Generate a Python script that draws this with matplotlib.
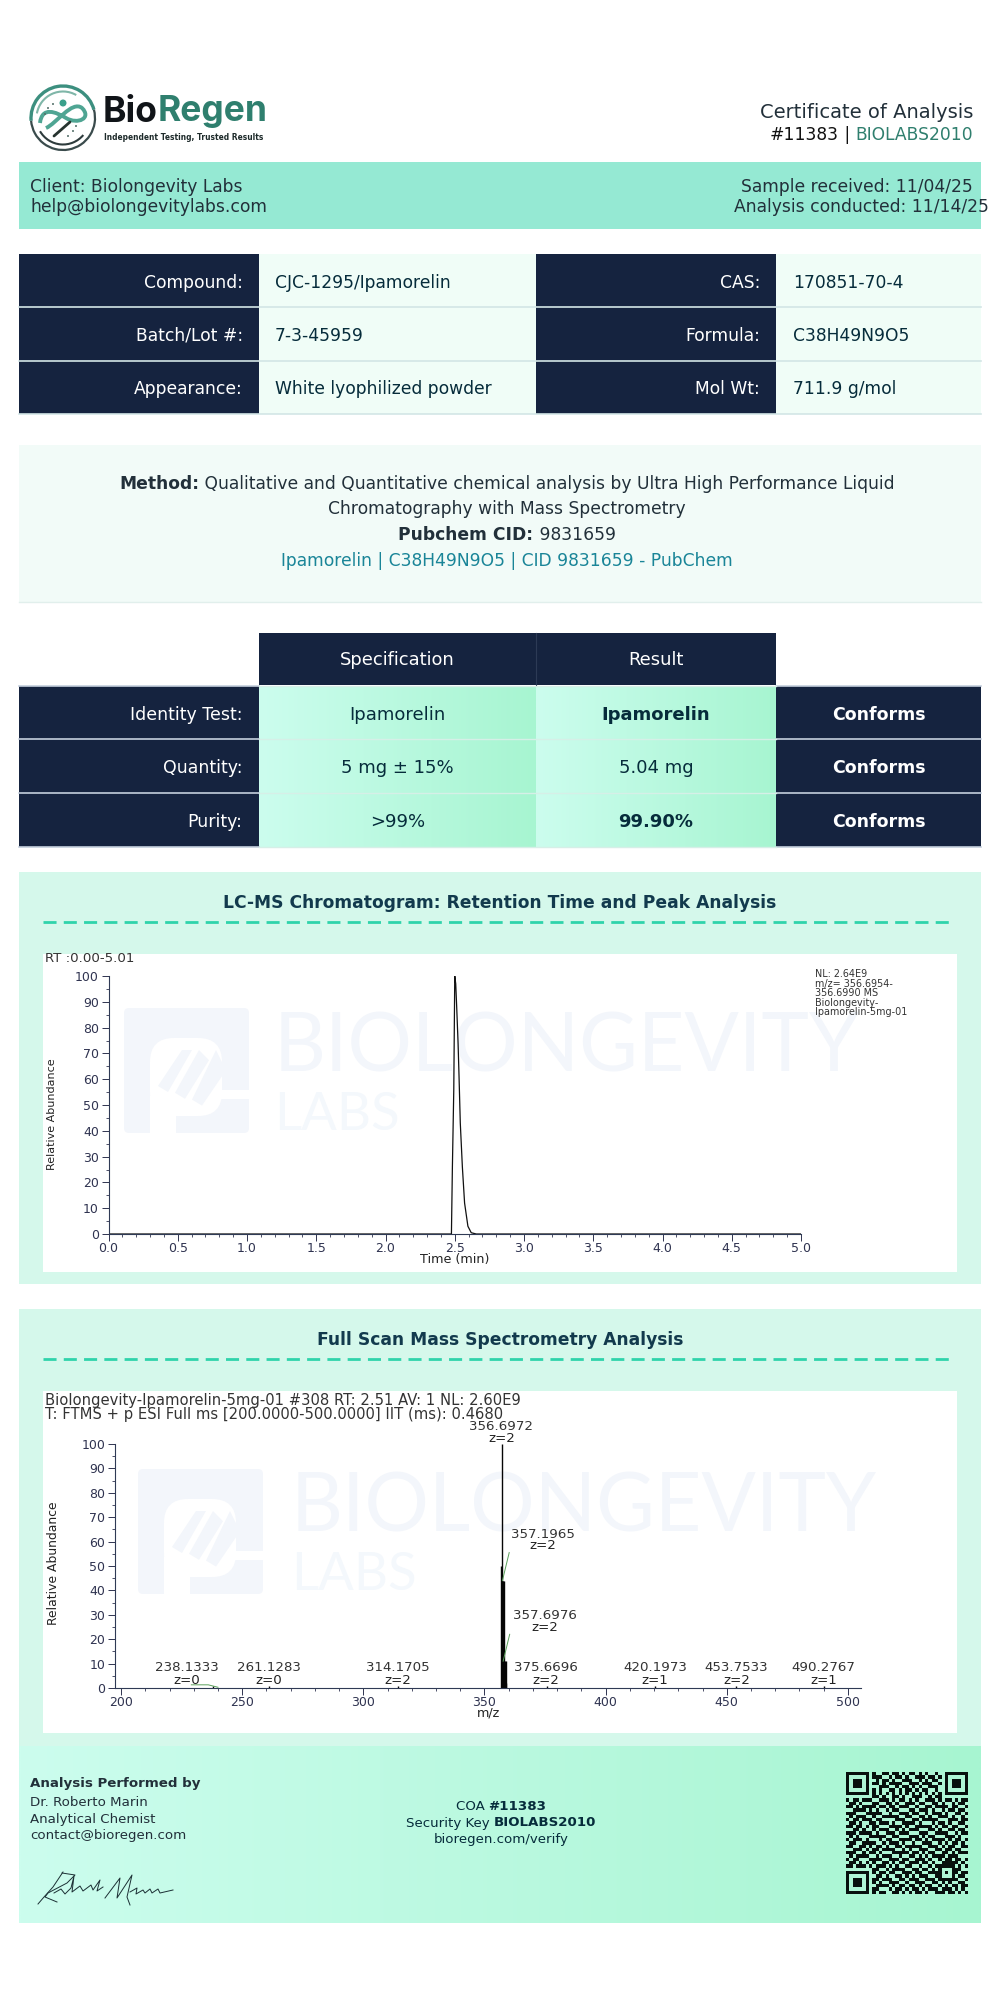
import numpy as np
import matplotlib
matplotlib.use('Agg')
import matplotlib.pyplot as plt
from matplotlib.patches import Rectangle, Circle, Arc, FancyBboxPatch, Polygon, PathPatch
from matplotlib.path import Path
from matplotlib.ticker import MultipleLocator

plt.rcParams['font.family'] = 'DejaVu Sans'

# colours
NAVY = '#15233f'
BAND = '#95e9d3'
PALE = '#f0fdf7'
PANEL = '#d5f8eb'
METHOD_BG = '#f2fbf8'
INK = '#062c3b'
DARK = '#22303a'
GREEN = '#2f7f6e'
LINK = '#1a8598'
DASH = '#2fd3ab'
WM = '#f3f6fb'

# report text
info_left = ['Compound:', 'Batch/Lot #:', 'Appearance:']
info_left_val = ['CJC-1295/Ipamorelin', '7-3-45959', 'White lyophilized powder']
info_right = ['CAS:', 'Formula:', 'Mol Wt:']
info_right_val = ['170851-70-4', 'C38H49N9O5', '711.9 g/mol']
tests = ['Identity Test:', 'Quantity:', 'Purity:']
specs = ['Ipamorelin', '5 mg ± 15%', '>99%']
results = ['Ipamorelin', '5.04 mg', '99.90%']
results_bold = [True, False, True]
verdicts = ['Conforms', 'Conforms', 'Conforms']

# chromatogram
rt = [0.0, 2.476, 2.483, 2.493, 2.5, 2.507, 2.514, 2.524, 2.531, 2.54, 2.555, 2.571, 2.595, 2.619, 2.655, 5.0]
rt_abundance = [0, 0, 26, 56, 100, 97, 88, 74, 61, 43, 26, 12, 3, 0.5, 0, 0]

# mass spectrum
mz = [238.13, 261.13, 314.17, 356.8, 357.2, 357.45, 357.7, 357.95, 358.2, 358.45, 358.7, 359.0, 375.67, 420.2, 453.75, 490.28]
mz_abundance = [1, 1, 1, 50, 100, 44, 44, 44, 11, 11, 11, 2, 1, 1, 1, 1]
peak_names = ['238.1333', '261.1283', '314.1705', '356.6972', '357.1965', '357.6976', '375.6696', '420.1973', '453.7533', '490.2767']
peak_z = ['z=0', 'z=0', 'z=2', 'z=2', 'z=2', 'z=2', 'z=2', 'z=1', 'z=2', 'z=1']
name_x = [227.3, 261, 314.4, 357, 374, 375, 375.5, 420.3, 454, 490]
name_y = [8.2, 8.2, 8.2, 107, 63, 29.7, 8.2, 8.2, 8.2, 8.2]
z_y = [3.1, 3.1, 3.1, 102.3, 58.2, 24.8, 3.1, 3.1, 3.1, 3.1]

qr_rows = [
    '1111111010011011010110101001001111111',
    '1000001011100101101001110110101000001',
    '1011101001011010011100101011001011101',
    '1011101011010111100111011100101011101',
    '1011101000111001011010100111001011101',
    '1000001010100110101101011001001000001',
    '1111111010101010101010101010101111111',
    '0000000011010011010011100101100000000',
    '1011011100111010110101001110101101011',
    '0110100011001101001110110011010010110',
    '1101011110110110111001001101111011001',
    '0011110101001011000110111010010110110',
    '1110001111100100111011001011101001101',
    '0101110010011111001100110100111010010',
    '1011011101100001110011011111000111011',
    '0110100110111010011110100010110100110',
    '1101101011000111101001111101011011001',
    '0011010010111001010111000110100110110',
    '1110111101001110111000111001111001011',
    '0101000111110011000111010110001110100',
    '1011101000101100111101101011110101101',
    '0110011110010111010010011100101011010',
    '1100110101101001101111100111010110011',
    '0011101011011110010100111001101101100',
    '1110010110100011111011010110011010111',
    '0101111001011100100110101011110111000',
    '1011000111100111011001110100101101101',
    '0110101010011010110111011010011111010',
    '1101110101110101001100100101111110101',
    '0000000011001011110011011010100011100',
    '1111111010110110011101100111101011011',
    '1000001001101001101010111001100010110',
    '1011101011011100110111001110111111001',
    '1011101010100111001001110011010100110',
    '1011101001111010110110101100101011011',
    '1000001011000101101011010111011101010',
    '1111111010110011010101101001110110101',
]


def rgb(c):
    return np.array(matplotlib.colors.to_rgb(c))


fig = plt.figure(figsize=(10, 20), dpi=100, facecolor='white')
ax = fig.add_axes([0, 0, 1, 1])
ax.set_xlim(0, 1000)
ax.set_ylim(2000, 0)
ax.axis('off')
renderer = fig.canvas.get_renderer()


def box(x0, y0, x1, y1, color, z=1):
    ax.add_patch(Rectangle((x0, y0), x1 - x0, y1 - y0, facecolor=color, edgecolor='none', zorder=z))


def grad(x0, y0, x1, y1, c0='#ccfdee', c1='#a7f5d1', z=1):
    t = np.linspace(0, 1, 256)[None, :, None]
    img = rgb(c0)[None, None, :] * (1 - t) + rgb(c1)[None, None, :] * t
    ax.imshow(img, extent=(x0, x1, y1, y0), aspect='auto', zorder=z, interpolation='bilinear')
    ax.set_xlim(0, 1000)
    ax.set_ylim(2000, 0)


def put(x, y, s, size=12.3, color=DARK, ha='left', weight='normal', **kw):
    return ax.text(x, y, s, fontsize=size, color=color, ha=ha, va='center', fontweight=weight, zorder=5, **kw)


def runs(x, y, parts, size=12.3, align='left', **kw):
    # several styles on one line, parts are (text, colour, weight)
    widths = []
    for s, c, w in parts:
        t = ax.text(0, 0, s.replace(' ', '\u00a0'), fontsize=size, fontweight=w, **kw)
        widths.append(t.get_window_extent(renderer).width)
        t.remove()
    total = sum(widths)
    cx = x if align == 'left' else x - total if align == 'right' else x - total / 2
    for (s, c, w), wd in zip(parts, widths):
        put(cx, y, s.replace(' ', '\u00a0'), size=size, color=c, weight=w, **kw)
        cx += wd


def watermark(ix, iy, tx, ty, ly, size, lsize):
    ax.add_patch(FancyBboxPatch((ix, iy), 125, 125, boxstyle='round,pad=0,rounding_size=5', fc=WM, ec='none', zorder=2.5))
    ax.add_patch(FancyBboxPatch((ix + 26, iy + 30), 72, 78, boxstyle='round,pad=0,rounding_size=24', fc='white', ec='none', zorder=2.6))
    ax.add_patch(Rectangle((ix + 26, iy + 88), 26, 37, fc='white', ec='none', zorder=2.6))
    ax.add_patch(Rectangle((ix + 60, iy + 82), 65, 9, fc='white', ec='none', zorder=2.6))
    for k in range(3):
        d = 17 * k
        ax.add_patch(Polygon([(ix + 34 + d, iy + 78 + d * 0.4), (ix + 58 + d, iy + 42), (ix + 68 + d, iy + 42 + d * 0.6),
                              (ix + 44 + d, iy + 84 + d * 0.4)], fc=WM, ec='none', zorder=2.7))
    ax.text(tx, ty, 'BIOLONGEVITY', fontsize=size, color=WM, family='Lato', va='center', zorder=2.5)
    ax.text(tx, ly, 'LABS', fontsize=lsize, color='#f4f8fc', family='Lato', va='center', zorder=2.5)


# logo
cx, cy = 63, 118
ax.add_patch(Arc((cx, cy), 64, 64, theta1=175, theta2=345, ec='#3c8f7f', lw=2.4, zorder=3))
ax.add_patch(Arc((cx, cy), 64, 64, theta1=345, theta2=175, ec='#3a4b4c', lw=1.6, zorder=3))
ax.add_patch(Arc((cx, cy), 53, 53, theta1=190, theta2=300, ec='#7fb6a8', lw=1.5, zorder=3))
ax.add_patch(Arc((cx, cy), 53, 53, theta1=40, theta2=150, ec='#2e3b3c', lw=1.5, zorder=3))
s_curve = Path([(40, 123), (42, 106), (56, 112), (66, 118), (78, 125), (92, 118), (82, 108), (72, 100), (56, 124), (46, 128)],
               [Path.MOVETO, Path.CURVE4, Path.CURVE4, Path.CURVE4, Path.CURVE4, Path.CURVE4, Path.CURVE4, Path.CURVE4, Path.CURVE4, Path.CURVE4])
ax.add_patch(PathPatch(s_curve, fc='none', ec='#4fa593', lw=2.8, zorder=3))
ax.plot([54, 70], [136, 122], color='#27342f', lw=2.0, solid_capstyle='round', zorder=3)
ax.add_patch(Circle((63, 103), 3.5, fc='#3aa08b', ec='none', zorder=3))
for dx, dy in [(48, 108), (53, 104), (73, 131), (68, 136), (76, 126), (45, 114)]:
    ax.add_patch(Circle((dx, dy), 1.0, fc='#55706a', ec='none', zorder=3))
runs(103, 112, [('Bio', '#101418', 'bold'), ('Regen', GREEN, 'bold')], size=25.5, family='Inter')
put(104, 137, 'Independent Testing, Trusted Results', size=5.45, color='#1d2a2a', weight='bold')

# header
put(973, 112, 'Certificate of Analysis', size=14, ha='right')
runs(973, 135, [('#11383', '#111111', 'normal'), (' | ', '#111111', 'normal'), ('BIOLABS2010', GREEN, 'normal')], size=12.3, align='right')

# client band
box(19, 162, 981, 229, BAND)
put(30.5, 187, 'Client: Biolongevity Labs')
put(30.5, 207, 'help@biolongevitylabs.com')
put(973, 187, 'Sample received: 11/04/25', ha='right')
put(988.5, 207, 'Analysis conducted: 11/14/25', ha='right')

# compound table
row_edges = [254, 307, 361, 414]
box(259, 254, 536, 414, PALE)
box(776, 254, 981, 414, PALE)
box(19, 254, 259, 414, NAVY, z=2)
box(536, 254, 776, 414, NAVY, z=2)
for y in row_edges[1:]:
    ax.plot([19, 981], [y, y], color='#d3e6e6', lw=1.2, zorder=3)
for i in range(3):
    y = (row_edges[i] + row_edges[i + 1]) / 2 + 2
    put(243, y, info_left[i], color='white', ha='right')
    put(275, y, info_left_val[i], color=INK)
    put(760, y, info_right[i], color='white', ha='right')
    put(793, y, info_right_val[i], color=INK)

# method box
box(19, 445, 981, 602, METHOD_BG)
ax.plot([19, 981], [602, 602], color='#e1efec', lw=1, zorder=2)
runs(507, 484, [('Method:', DARK, 'bold'), (' Qualitative and Quantitative chemical analysis by Ultra High Performance Liquid', DARK, 'normal')], align='center')
put(507, 509, 'Chromatography with Mass Spectrometry', ha='center')
runs(507, 535, [('Pubchem CID:', DARK, 'bold'), (' 9831659', DARK, 'normal')], align='center')
put(507, 561, 'Ipamorelin | C38H49N9O5 | CID 9831659 - PubChem', color=LINK, ha='center')

# results table
box(259, 633, 776, 685, NAVY)
ax.plot([536, 536], [633, 685], color='#2c3a55', lw=0.8, zorder=3)
put(397.5, 660, 'Specification', size=12.9, color='white', ha='center')
put(656, 660, 'Result', size=12.9, color='white', ha='center')
edges = [686, 739, 793, 847]
for i in range(3):
    y0, y1 = edges[i], edges[i + 1]
    y = (y0 + y1) / 2 + 2
    box(19, y0, 259, y1, NAVY)
    box(776, y0, 981, y1, NAVY)
    grad(259, y0, 536, y1)
    grad(536, y0, 776, y1)
    put(242, y, tests[i], size=12.5, color='white', ha='right')
    put(397.5, y, specs[i], size=13, color=INK, ha='center')
    put(656, y, results[i], size=13, color=INK, ha='center', weight='bold' if results_bold[i] else 'normal')
    put(879, y, verdicts[i], size=12.5, color='white', ha='center', weight='bold')
for y in edges:
    ax.plot([19, 259], [y, y], color='#c5cfdd', lw=1.2, zorder=3)
    ax.plot([776, 981], [y, y], color='#c5cfdd', lw=1.2, zorder=3)
    ax.plot([259, 776], [y, y], color='#d6efe7', lw=1, zorder=3)

# chart panels
for top, bottom, wt, wb, ty, dy, title in [
        (872, 1284, 954, 1272, 903, 922, 'LC-MS Chromatogram: Retention Time and Peak Analysis'),
        (1309, 1746, 1391, 1733, 1340, 1359, 'Full Scan Mass Spectrometry Analysis')]:
    box(19, top, 981, bottom, PANEL)
    box(43, wt, 957, wb, 'white', z=2)
    put(500, ty, title, size=12.3, color='#123a4d', ha='center', weight='bold')
    ax.plot([43, 950], [dy, dy], color=DASH, lw=2, dashes=(4.7, 2.6), zorder=3)

watermark(124, 1008, 274, 1049, 1115, 58, 38)
watermark(138, 1469, 291, 1508, 1575, 58, 38)

# footer
grad(19, 1746, 981, 1923, z=3)
put(30.5, 1783, 'Analysis Performed by', size=9.6, weight='bold')
put(30.5, 1802, 'Dr. Roberto Marin', size=9.6)
put(30.5, 1819, 'Analytical Chemist', size=9.6)
put(30.5, 1836, 'contact@bioregen.com', size=9.6)
runs(501, 1806, [('COA ', INK, 'normal'), ('#11383', INK, 'bold')], size=9.6, align='center')
runs(501, 1823, [('Security Key ', INK, 'normal'), ('BIOLABS2010', INK, 'bold')], size=9.6, align='center')
put(501, 1840, 'bioregen.com/verify', size=9.6, color=INK, ha='center')

# signature strokes
for stroke in [
    [(63, 1872), (53, 1887), (44, 1897), (38, 1904)],
    [(62, 1873), (75, 1875), (67, 1883), (48, 1893), (45, 1897), (57, 1902)],
    [(54, 1893), (61, 1889), (65, 1894), (71, 1888), (74, 1876), (72, 1892), (80, 1886), (83, 1891), (91, 1885), (93, 1890), (100, 1880), (97, 1891), (103, 1887)],
    [(105, 1898), (120, 1878), (117, 1898), (132, 1875), (127, 1897), (130, 1905)],
    [(130, 1892), (137, 1888), (136, 1894), (143, 1890), (145, 1893), (150, 1889), (152, 1893), (158, 1889), (160, 1893), (173, 1890)],
]:
    xs, ys = zip(*stroke)
    ax.plot(xs, ys, color='#1b2f34', lw=0.7, solid_joinstyle='round', zorder=6)

# qr code
qr = np.array([[int(ch) for ch in r] for r in qr_rows])
ax.imshow(qr, extent=(846, 968, 1894, 1772), cmap=matplotlib.colors.ListedColormap(['#aef5d5', '#08100e']),
          aspect='auto', zorder=5, interpolation='nearest')
ax.set_xlim(0, 1000)
ax.set_ylim(2000, 0)


def chart_axes(x0, x1, y_top, y_zero):
    a = fig.add_axes([x0 / 1000, 1 - y_zero / 2000, (x1 - x0) / 1000, (y_zero - y_top) / 2000])
    a.patch.set_alpha(0)
    a.spines['top'].set_visible(False)
    a.spines['right'].set_visible(False)
    for sp in a.spines.values():
        sp.set_color('#2f3a55')
        sp.set_linewidth(0.8)
    a.set_ylim(0, 100)
    a.yaxis.set_major_locator(MultipleLocator(10))
    a.yaxis.set_minor_locator(MultipleLocator(5))
    a.tick_params(which='major', length=5, width=0.7, labelsize=9, colors='#2f3350', pad=2)
    a.tick_params(which='minor', length=2.5, width=0.6, color='#2f3350')
    a.tick_params(axis='x', pad=1)
    return a


# chromatogram
ax1 = chart_axes(108.5, 801, 976, 1234)
ax1.plot(rt, rt_abundance, color='#111111', lw=0.9)
ax1.set_xlim(0, 5)
ax1.xaxis.set_major_locator(MultipleLocator(0.5))
ax1.xaxis.set_minor_locator(MultipleLocator(0.1))
ax1.set_xlabel('Time (min)', fontsize=9.2, color='#222222', labelpad=-2)
put(52, 1114, 'Relative Abundance', size=8, color='#222222', ha='center', rotation=90, family='Liberation Sans Narrow')
put(45, 958, 'RT :0.00-5.01', size=9.6, color='#333333')
for k, line in enumerate(['NL: 2.64E9', 'm/z= 356.6954-', '356.6990 MS', 'Biolongevity-', 'Ipamorelin-5mg-01']):
    put(815, 974 + k * 9.6, line, size=6.9, color='#333333')

# mass spectrum
ax2 = chart_axes(115, 861, 1444, 1688)
ax2.vlines(mz, 0, mz_abundance, color='#050505', lw=1.0)
ax2.set_xlim(197.5, 505.4)
ax2.xaxis.set_major_locator(MultipleLocator(50))
ax2.xaxis.set_minor_locator(MultipleLocator(10))
ax2.set_xlabel('m/z', fontsize=9.2, color='#222222', labelpad=-2)
put(53.5, 1563, 'Relative Abundance', size=8.9, color='#222222', ha='center', rotation=90, family='Liberation Sans Narrow')
for s, z, x, y0, y1 in zip(peak_names, peak_z, name_x, name_y, z_y):
    ax2.text(x, y0, s, fontsize=9.6, color='#333333', ha='center', va='center', clip_on=False)
    ax2.text(x, y1, z, fontsize=9.6, color='#222222', ha='center', va='center', clip_on=False)
ax2.plot([357.4, 360.2], [44, 55.5], color='#5aa05a', lw=0.7)
ax2.plot([357.7, 360.4], [11, 22], color='#5aa05a', lw=0.7)
ax2.plot([229, 236, 240], [1.3, 1.3, 0.3], color='#5aa05a', lw=0.7)
put(45, 1401, 'Biolongevity-Ipamorelin-5mg-01 #308 RT: 2.51 AV: 1 NL: 2.60E9', size=10.6, color='#333333')
put(45, 1414.5, 'T: FTMS + p ESI Full ms [200.0000-500.0000] IIT (ms): 0.4680', size=10.6, color='#333333')

fig.savefig('out.png', dpi=100)
